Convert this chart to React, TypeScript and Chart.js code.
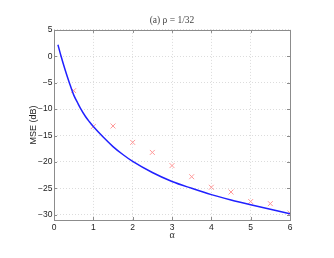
import React, { useEffect, useRef } from "react";
import { Chart, registerables } from "chart.js";

Chart.register(...registerables);

const curveAlpha = [0.1, 0.18, 0.28, 0.39, 0.5, 0.6, 0.67, 0.8, 0.9, 1.0, 1.25, 1.5, 1.75, 2.0, 2.5, 3.0, 3.5, 4.0, 4.5, 5.0, 5.5, 6.0];
const curveMSE = [2.2, 0.0, -2.5, -5.0, -7.3, -8.8, -9.8, -11.4, -12.4, -13.3, -15.3, -17.1, -18.6, -19.9, -22.0, -23.7, -25.0, -26.2, -27.2, -28.1, -28.95, -29.8];

const markerAlpha = [0.5, 1.0, 1.5, 2.0, 2.5, 3.0, 3.5, 4.0, 4.5, 5.0, 5.5, 6.0];
const markerMSE = [-6.5, -13.3, -13.2, -16.3, -18.2, -20.7, -22.8, -24.8, -25.7, -27.5, -27.9, -29.7];

const xTicks = [0, 1, 2, 3, 4, 5, 6];
const yTicks = [5, 0, -5, -10, -15, -20, -25, -30];

const titleText = "(a) ρ = 1/32";
const xLabel = "α";
const yLabel = "MSE (dB)";

const boxPlugin = {
  id: "boxPlugin",
  afterDatasetsDraw(chart: any) {
    const { ctx, chartArea, scales } = chart;
    ctx.save();
    ctx.strokeStyle = "#8c8c8c";
    ctx.lineWidth = 1;
    ctx.strokeRect(
      Math.round(chartArea.left) + 0.5,
      Math.round(chartArea.top) + 0.5,
      Math.round(chartArea.right - chartArea.left),
      Math.round(chartArea.bottom - chartArea.top)
    );
    ctx.beginPath();
    for (const v of xTicks) {
      const x = Math.round(scales.x.getPixelForValue(v)) + 0.5;
      ctx.moveTo(x, chartArea.bottom);
      ctx.lineTo(x, chartArea.bottom - 3);
      ctx.moveTo(x, chartArea.top);
      ctx.lineTo(x, chartArea.top + 3);
    }
    for (const v of yTicks) {
      const y = Math.round(scales.y.getPixelForValue(v)) + 0.5;
      ctx.moveTo(chartArea.left, y);
      ctx.lineTo(chartArea.left + 3, y);
      ctx.moveTo(chartArea.right, y);
      ctx.lineTo(chartArea.right - 3, y);
    }
    ctx.stroke();
    ctx.restore();
  },
};

export default function App() {
  const ref = useRef<HTMLCanvasElement>(null);
  useEffect(() => {
    if (!ref.current) return;
    const chart = new Chart(ref.current, {
      type: "scatter",
      data: {
        datasets: [
          {
            label: "curve",
            data: curveAlpha.map((a, i) => ({ x: a, y: curveMSE[i] })),
            showLine: true,
            borderColor: "#2020ff",
            borderWidth: 1.5,
            pointRadius: 0,
            cubicInterpolationMode: "monotone",
          } as any,
          {
            label: "markers",
            data: markerAlpha.map((a, i) => ({ x: a, y: markerMSE[i] })),
            showLine: false,
            pointStyle: "crossRot",
            pointRadius: 3.5,
            borderColor: "#ff9999",
            borderWidth: 1,
            backgroundColor: "#ff9999",
          } as any,
        ],
      },
      options: {
        animation: false,
        responsive: false,
        maintainAspectRatio: false,
        layout: { padding: { left: 26, right: 44, top: 0, bottom: 17 } },
        plugins: {
          legend: { display: false },
          tooltip: { enabled: false },
          title: {
            display: true,
            text: titleText,
            fullSize: false,
            color: "#444",
            font: { family: "Liberation Serif", size: 9.5, weight: "normal" },
            padding: { top: 15, bottom: 3.5 },
          },
        },
        scales: {
          x: {
            type: "linear",
            min: 0,
            max: 6,
            afterBuildTicks: (s: any) => {
              s.ticks = xTicks.map((v) => ({ value: v }));
            },
            afterFit: (s: any) => {
              s.height = 21;
            },
            grid: {
              color: "#dcdcdc",
              drawTicks: false,
            },
            border: { display: false, dash: [1, 2] },
            ticks: {
              color: "#222",
              padding: 3,
              font: { family: "Liberation Sans", size: 8.5 },
            },
            title: {
              display: true,
              text: xLabel,
              color: "#333",
              padding: { top: 0, bottom: 0 },
              font: { family: "Liberation Serif", size: 10 },
            },
          },
          y: {
            type: "linear",
            min: -31,
            max: 5,
            afterBuildTicks: (s: any) => {
              s.ticks = yTicks.map((v) => ({ value: v }));
            },
            afterFit: (s: any) => {
              s.width = 28;
            },
            grid: {
              color: "#dcdcdc",
              drawTicks: false,
            },
            border: { display: false, dash: [1, 2] },
            ticks: {
              color: "#222",
              padding: 1.5,
              font: { family: "Liberation Sans", size: 8.5 },
              callback: (v: any) => String(v).replace("-", "\u2212"),
            },
            title: {
              display: true,
              text: yLabel,
              color: "#222",
              padding: { top: 2, bottom: 0 },
              font: { family: "Liberation Sans", size: 9 },
            },
          },
        },
      },
      plugins: [boxPlugin],
    });
    return () => chart.destroy();
  }, []);
  return (
    <div style={{ position: "fixed", left: 0, top: 0, width: 334, height: 258, background: "#fff" }}>
      <canvas ref={ref} width={334} height={258} style={{ width: 334, height: 258 }} />
    </div>
  );
}
